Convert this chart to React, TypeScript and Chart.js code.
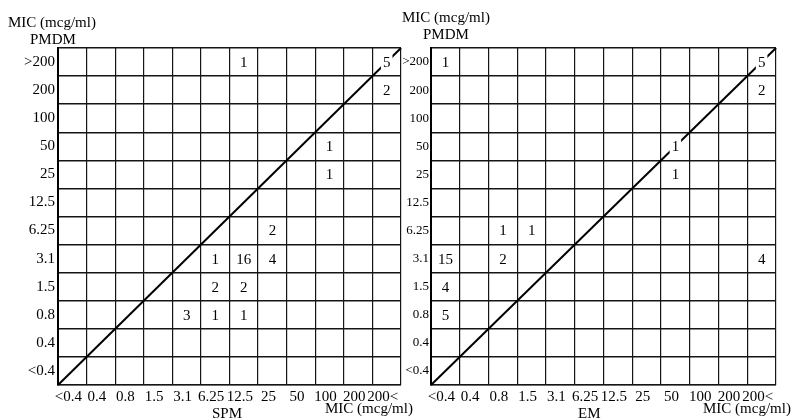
import React, { useEffect, useRef } from 'react';
import { Chart, registerables } from 'chart.js';

Chart.register(...registerables);

// Category axes (MIC, mcg/ml)
const xLabels = ['<0.4', '0.4', '0.8', '1.5', '3.1', '6.25', '12.5', '25', '50', '100', '200', '200<'];
const yLabels = ['>200', '200', '100', '50', '25', '12.5', '6.25', '3.1', '1.5', '0.8', '0.4', '<0.4'];

// Left panel: PMDM vs SPM
const spmX = ['12.5', '200<', '200<', '100', '100', '25', '6.25', '12.5', '25', '6.25', '12.5', '3.1', '6.25', '12.5'];
const spmY = ['>200', '>200', '200', '50', '25', '6.25', '3.1', '3.1', '3.1', '1.5', '1.5', '0.8', '0.8', '0.8'];
const spmN = [1, 5, 2, 1, 1, 2, 1, 16, 4, 2, 2, 3, 1, 1];

// Right panel: PMDM vs EM
const emX = ['<0.4', '200<', '200<', '50', '50', '0.8', '1.5', '<0.4', '0.8', '200<', '<0.4', '<0.4'];
const emY = ['>200', '>200', '200', '50', '25', '6.25', '6.25', '3.1', '3.1', '3.1', '1.5', '0.8'];
const emN = [1, 5, 2, 1, 1, 1, 1, 15, 2, 4, 4, 5];

const FONT = '"Liberation Serif", "DejaVu Serif", serif';
const LINE = '#151515';

const diagonalPlugin = {
  id: 'diagonal',
  beforeDatasetsDraw(chart: any) {
    const xs = chart.scales.x;
    const ys = chart.scales.y;
    const ctx = chart.ctx;
    ctx.save();
    ctx.strokeStyle = '#000';
    ctx.lineWidth = 2;
    ctx.beginPath();
    ctx.moveTo(xs.getPixelForValue(-0.5), ys.getPixelForValue(yLabels.length - 0.5));
    ctx.lineTo(xs.getPixelForValue(xLabels.length - 0.5), ys.getPixelForValue(-0.5));
    ctx.stroke();
    ctx.restore();
  },
};

const countPlugin = {
  id: 'counts',
  afterDatasetsDraw(chart: any) {
    const ctx = chart.ctx;
    ctx.save();
    ctx.font = `15px ${FONT}`;
    ctx.textAlign = 'center';
    ctx.textBaseline = 'middle';
    chart.data.datasets.forEach((ds: any, di: number) => {
      const meta = chart.getDatasetMeta(di);
      meta.data.forEach((el: any, i: number) => {
        const txt = String(ds.data[i].n);
        const w = ctx.measureText(txt).width;
        ctx.fillStyle = '#fff';
        ctx.fillRect(el.x - w / 2 - 2, el.y - 7, w + 4, 14);
        ctx.fillStyle = '#000';
        ctx.fillText(txt, el.x, el.y + 1);
      });
    });
    ctx.restore();
  },
};

function buildConfig(xs: string[], ys: string[], ns: number[], yAxisWidth: number, padRight: number, yFont: number, yPad: number) {
  const points = xs.map((x, i) => ({ x, y: ys[i], n: ns[i] }));
  return {
    type: 'scatter',
    data: {
      datasets: [
        {
          data: points,
          pointRadius: 0,
          pointHoverRadius: 0,
          showLine: false,
        },
      ],
    },
    options: {
      animation: false,
      responsive: false,
      devicePixelRatio: 1,
      events: [],
      layout: { padding: { top: 48, right: padRight, left: 0, bottom: 0 } },
      plugins: { legend: { display: false }, tooltip: { enabled: false } },
      scales: {
        x: {
          type: 'category',
          labels: xLabels,
          offset: true,
          grid: { offset: true, color: LINE, lineWidth: 1.2, drawTicks: false },
          border: { color: LINE, width: 1.2 },
          ticks: {
            font: { family: FONT, size: 15 },
            color: '#000',
            padding: 3,
            autoSkip: false,
            maxRotation: 0,
            labelOffset: -4,
          },
          afterFit: (s: any) => {
            s.height = 35;
          },
        },
        y: {
          type: 'category',
          labels: yLabels,
          offset: true,
          grid: { offset: true, color: LINE, lineWidth: 1.4, drawTicks: false },
          border: { color: '#000', width: 2 },
          ticks: {
            font: { family: FONT, size: yFont },
            color: '#000',
            padding: yPad,
            autoSkip: false,
          },
          afterFit: (s: any) => {
            s.width = yAxisWidth;
          },
        },
      },
    },
    plugins: [diagonalPlugin, countPlugin],
  };
}

function Panel(props: { left: number; width: number; xs: string[]; ys: string[]; ns: number[]; yAxisWidth: number; padRight: number; yFont: number; yPad: number }) {
  const ref = useRef<HTMLCanvasElement | null>(null);
  useEffect(() => {
    if (!ref.current) return;
    const chart = new Chart(ref.current, buildConfig(props.xs, props.ys, props.ns, props.yAxisWidth, props.padRight, props.yFont, props.yPad) as any);
    return () => chart.destroy();
  }, []);
  return (
    <canvas
      ref={ref}
      width={props.width}
      height={420}
      style={{ position: 'absolute', left: props.left, top: 0, width: props.width, height: 420, display: 'block' }}
    />
  );
}

const textStyle: React.CSSProperties = {
  position: 'absolute',
  fontFamily: FONT,
  fontSize: 15,
  lineHeight: '15px',
  color: '#000',
  whiteSpace: 'nowrap',
};

export default function App() {
  return (
    <div style={{ position: 'absolute', left: 0, top: 0, width: 794, height: 420, background: '#fff', overflow: 'hidden' }}>
      <Panel left={0} width={420} xs={spmX} ys={spmY} ns={spmN} yAxisWidth={58} padRight={19} yFont={15} yPad={3} />
      <Panel left={400} width={394} xs={emX} ys={emY} ns={emN} yAxisWidth={31} padRight={18} yFont={13} yPad={2} />
      <span style={{ ...textStyle, left: 8, top: 15 }}>MIC (mcg/ml)</span>
      <span style={{ ...textStyle, left: 30, top: 32 }}>PMDM</span>
      <span style={{ ...textStyle, left: 402, top: 10 }}>MIC (mcg/ml)</span>
      <span style={{ ...textStyle, left: 423, top: 27 }}>PMDM</span>
      <span style={{ ...textStyle, left: 212, top: 406 }}>SPM</span>
      <span style={{ ...textStyle, left: 325, top: 401 }}>MIC (mcg/ml)</span>
      <span style={{ ...textStyle, left: 578, top: 406 }}>EM</span>
      <span style={{ ...textStyle, left: 703, top: 401 }}>MIC (mcg/ml)</span>
    </div>
  );
}
